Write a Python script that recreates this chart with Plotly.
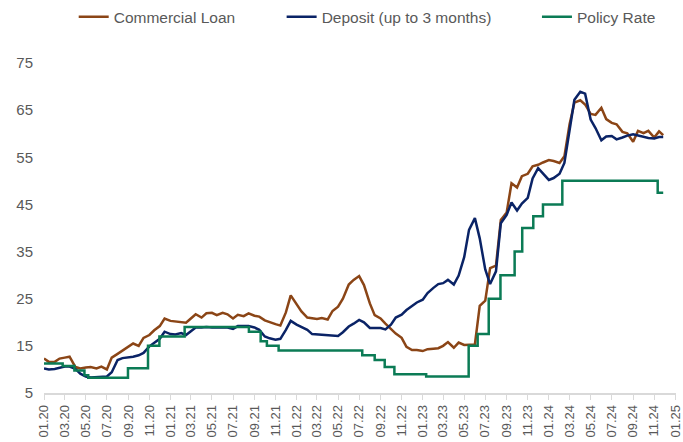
import plotly.graph_objects as go

# ---- semi-monthly observation dates (1st and 15th), last point 27 Nov 2024
dates = [f"{y}-{m:02d}-{d:02d}" for y in range(2020, 2025) for m in range(1, 13) for d in (1, 15)][:118] + ["2024-11-27"]

# ---- Commercial Loan rate (%)
loan_2020 = [12.3, 11.6, 11.6, 12.3, 12.5, 12.7, 10.5, 10.2, 10.4, 10.5, 10.2, 10.6,
             10.0, 12.5, 13.3, 14.0, 14.8, 15.5, 15.0, 16.7, 17.3, 18.3, 19.2, 20.8]
loan_2021 = [20.3, 20.2, 20.0, 19.9, 20.8, 21.7, 21.0, 21.9, 22.0, 21.5, 22.0, 21.7,
             20.8, 21.6, 21.3, 21.9, 21.4, 21.2, 20.4, 20.0, 19.6, 19.3, 22.1, 25.7]
loan_2022 = [23.9, 22.3, 21.0, 20.9, 20.7, 20.9, 20.6, 22.4, 23.3, 25.0, 28.0, 29.0,
             29.8, 27.9, 24.0, 21.5, 20.8, 19.7, 18.6, 17.6, 16.7, 14.8, 14.1, 14.1]
loan_2023 = [13.9, 14.3, 14.4, 14.5, 15.0, 15.8, 14.6, 15.7, 15.2, 15.2, 15.3, 23.5,
             24.6, 31.5, 32.0, 41.7, 43.3, 49.5, 48.6, 51.0, 51.5, 53.1, 53.4, 53.9]
loan_2024 = [54.4, 54.2, 53.8, 55.2, 62.0, 66.6, 67.1, 66.2, 64.2, 64.0, 65.5, 63.1,
             62.3, 62.0, 60.4, 60.1, 58.3, 60.6, 60.1, 60.6, 59.2, 60.5, 59.7]

# ---- Deposit (up to 3 months) rate (%)
dep_2020 = [10.2, 10.0, 10.1, 10.3, 10.6, 10.6, 10.1, 9.1, 8.5, 8.3, 8.4, 8.5,
            8.5, 9.4, 12.0, 12.4, 12.5, 12.7, 13.0, 13.5, 14.9, 15.6, 16.5, 18.0]
dep_2021 = [17.5, 17.4, 17.7, 17.3, 18.2, 18.9, 18.9, 19.0, 18.9, 18.9, 18.9, 18.9,
            18.6, 19.2, 19.2, 19.2, 18.9, 18.4, 17.0, 16.6, 16.3, 16.5, 18.4, 20.3]
dep_2022 = [19.5, 19.0, 18.4, 17.5, 17.4, 17.3, 17.3, 17.2, 17.1, 17.9, 19.1, 19.7,
            20.5, 20.0, 18.8, 18.8, 18.8, 18.5, 19.5, 21.0, 21.6, 22.6, 23.5, 24.2]
dep_2023 = [24.8, 26.2, 27.3, 28.1, 28.3, 29.0, 28.0, 29.9, 33.8, 39.6, 42.1, 37.8,
            31.2, 28.1, 30.8, 41.0, 42.8, 45.4, 43.7, 45.2, 46.4, 50.5, 52.7, 51.5]
dep_2024 = [50.2, 50.6, 51.5, 53.8, 61.0, 67.2, 68.9, 68.5, 63.0, 61.2, 58.6, 59.4,
            59.5, 58.8, 59.2, 59.6, 59.9, 59.6, 59.3, 59.1, 59.0, 59.3, 59.3]

loan = loan_2020 + loan_2021 + loan_2022 + loan_2023 + loan_2024
deposit = dep_2020 + dep_2021 + dep_2022 + dep_2023 + dep_2024

# ---- Policy rate (%) : value in force from each date
policy_dates = ["2020-01-01", "2020-02-24", "2020-03-29", "2020-04-27", "2020-05-08",
                "2020-08-31", "2020-10-28", "2020-11-30", "2021-02-11", "2021-08-16",
                "2021-09-19", "2021-10-07", "2021-11-10", "2022-07-10", "2022-08-15",
                "2022-09-13", "2022-10-11", "2023-01-11", "2023-05-14", "2023-06-09",
                "2023-07-11", "2023-08-14", "2023-09-24", "2023-10-16", "2023-11-17",
                "2023-12-15", "2024-02-09", "2024-11-11", "2024-11-27"]
policy = [11.25, 10.75, 9.75, 8.75, 8.25,
          10.25, 15, 17, 19, 18,
          16, 15, 14, 13, 12,
          10.5, 9, 8.5, 15, 17.5,
          25, 30, 35, 40, 42.5,
          45, 50, 47.5, 47.5]

y_ticks = [5, 15, 25, 35, 45, 55, 65, 75]

series_names = ["Commercial Loan", "Deposit (up to 3 months)", "Policy Rate"]
colors = ["#8B4516", "#0A2366", "#0B7B55"]

FONT = "Liberation Sans, Arial, sans-serif"
GREY = "#595959"

fig = go.Figure()
fig.add_trace(go.Scatter(x=dates, y=loan, mode="lines", name=series_names[0],
                         line=dict(color=colors[0], width=2.5), legend="legend"))
fig.add_trace(go.Scatter(x=dates, y=deposit, mode="lines", name=series_names[1],
                         line=dict(color=colors[1], width=2.5), legend="legend2"))
fig.add_trace(go.Scatter(x=policy_dates, y=policy, mode="lines", name=series_names[2],
                         line=dict(color=colors[2], width=2.5, shape="hv"), legend="legend3"))

leg_common = dict(orientation="h", yanchor="middle", y=1.139, xanchor="left",
                  font=dict(family=FONT, size=15.5, color=GREY),
                  bgcolor="rgba(0,0,0,0)", borderwidth=0)

fig.update_layout(
    width=683, height=442,
    margin=dict(l=44, r=7, t=63, b=49, autoexpand=False),
    paper_bgcolor="white", plot_bgcolor="white",
    font=dict(family=FONT, size=15, color=GREY),
    showlegend=True,
    legend=dict(x=0.047, **leg_common),
    legend2=dict(x=0.376, **leg_common),
    legend3=dict(x=0.780, **leg_common),
    xaxis=dict(
        type="date", range=["2020-01-01", "2025-01-03"],
        tick0="2020-01-01", dtick="M2", tickformat="%m.%y",
        tickangle=-90, ticks="outside", ticklen=5, tickwidth=1.3,
        tickcolor="#d9d9d9", showline=True, linecolor="#d9d9d9", linewidth=1.5,
        showgrid=False, zeroline=False, ticklabeloverflow="allow",
        tickfont=dict(family=FONT, size=13, color=GREY),
    ),
    yaxis=dict(
        range=[5, 75], tickvals=y_ticks, ticks="", showline=False,
        showgrid=False, zeroline=False, ticklabelstandoff=10,
        tickfont=dict(family=FONT, size=15, color=GREY),
    ),
)

fig.write_html(
    "out.html",
    config={"displayModeBar": False},
    post_script="document.body.style.margin='0';document.body.style.overflow='hidden';",
)
